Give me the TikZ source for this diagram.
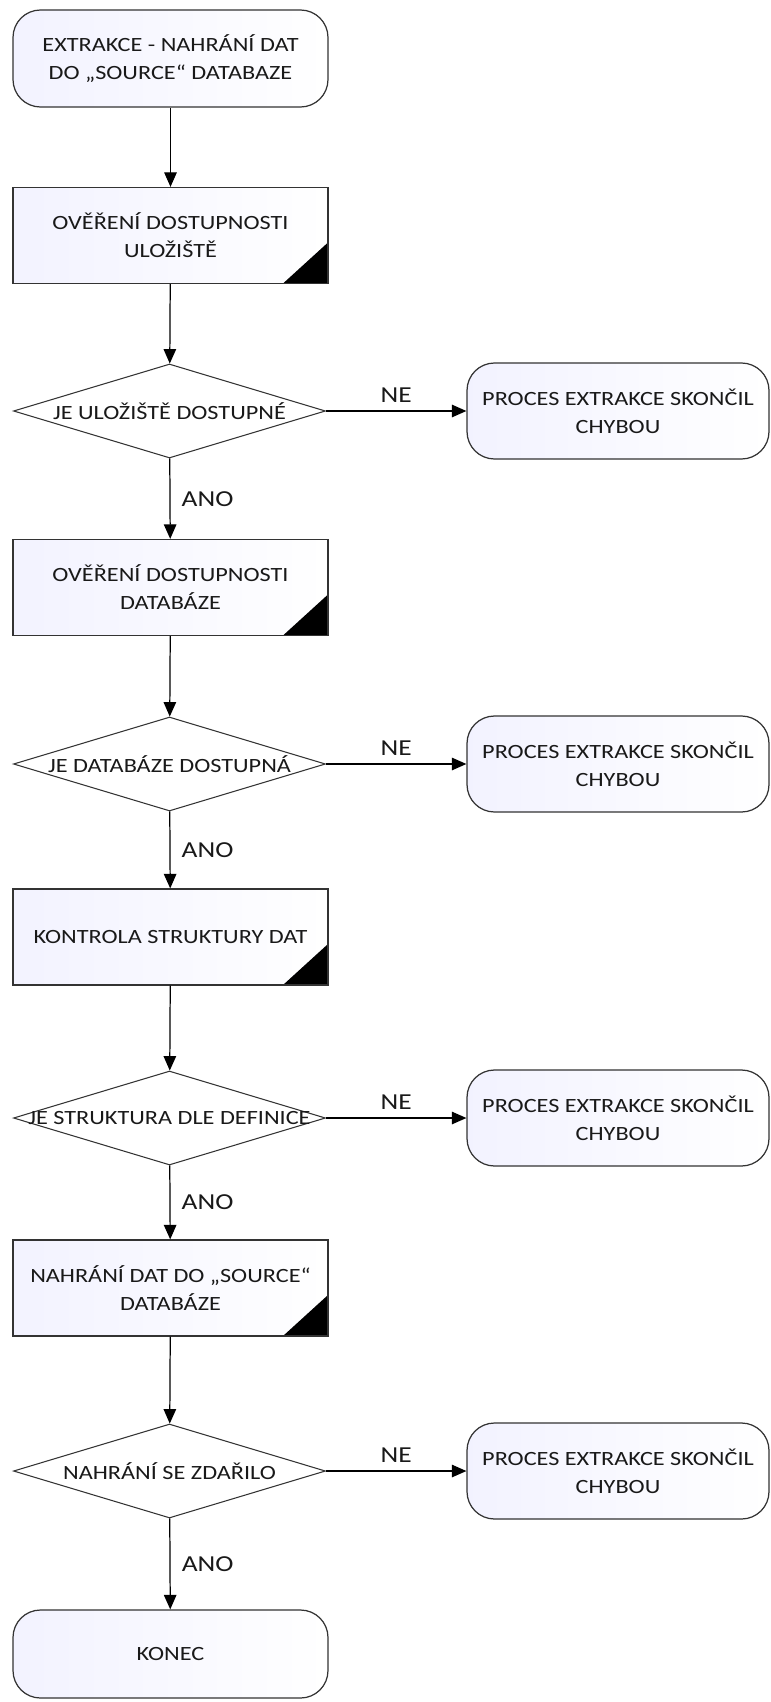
\documentclass[tikz,border=0pt]{standalone}
\usepackage{fontspec}
\setmainfont{Carlito}[FakeStretch=1.2]
\usepackage{tikz}
\usetikzlibrary{arrows.meta,shapes.geometric}

\tikzset{
	boxfont/.style={font=\fontsize{11.5}{16}\selectfont, text=black!90},
	term/.style={draw=black!80, line width=0.7pt, rounded corners=5.5mm, left color=blue!5!white, right color=white, minimum width=6.3cm, minimum height=1.94cm, align=center, boxfont},
	err/.style={term, minimum width=6.04cm, minimum height=1.92cm},
	proc/.style={draw=black!80, line width=0.7pt, left color=blue!5!white, right color=white, minimum width=6.3cm, minimum height=1.92cm, align=center, boxfont,
		path picture={\fill[black] (path picture bounding box.south east) -- ++(-0.9,0) -- ++(0.9,0.82) -- cycle;}},
	dec/.style={diamond, draw=black!80, line width=0.6pt, fill=white, minimum width=6.24cm, minimum height=1.88cm, inner sep=0pt},
	dectext/.style={boxfont},
	flow/.style={-{Triangle[length=2.9mm,width=2.5mm]}, line width=0.7pt},
	lab/.style={font=\fontsize{13}{15}\selectfont, text=black!90}
}

\begin{document}
\begin{tikzpicture}
		\useasboundingbox (0,0) rectangle (15.42,-34.04);

		\node[term] (start) at (3.41,-1.17) {EXTRAKCE - NAHRÁNÍ DAT\\DO „SOURCE“ DATABAZE};
		\node[proc] (p1) at (3.41,-4.71) {OVĚŘENÍ DOSTUPNOSTI\\ULOŽIŠTĚ};
		\node[dec] (d1) at (3.39,-8.22) {};
		\node[dectext] (t1) at (d1) {JE ULOŽIŠTĚ DOSTUPNÉ};
		\node[err] (e1) at (12.36,-8.22) {PROCES EXTRAKCE SKONČIL\\CHYBOU};

		\node[proc] (p2) at (3.41,-11.75) {OVĚŘENÍ DOSTUPNOSTI\\DATABÁZE};
		\node[dec] (d2) at (3.39,-15.28) {};
		\node[dectext] (t2) at (d2) {JE DATABÁZE DOSTUPNÁ};
		\node[err] (e2) at (12.36,-15.28) {PROCES EXTRAKCE SKONČIL\\CHYBOU};

		\node[proc] (p3) at (3.41,-18.74) {KONTROLA STRUKTURY DAT};
		\node[dec] (d3) at (3.39,-22.36) {};
		\node[dectext] (t3) at (d3) {JE STRUKTURA DLE DEFINICE};
		\node[err] (e3) at (12.36,-22.36) {PROCES EXTRAKCE SKONČIL\\CHYBOU};

		\node[proc] (p4) at (3.41,-25.76) {NAHRÁNÍ DAT DO „SOURCE“\\DATABÁZE};
		\node[dec] (d4) at (3.39,-29.42) {};
		\node[dectext] (t4) at (d4) {NAHRÁNÍ SE ZDAŘILO};
		\node[err] (e4) at (12.36,-29.42) {PROCES EXTRAKCE SKONČIL\\CHYBOU};

		\node[term, minimum height=1.76cm] (konec) at (3.41,-33.08) {KONEC};

		\draw[flow] (start) -- (p1);
		\draw[flow] (p1) -- (d1);
		\draw[flow] (d1) -- node[midway, right=3pt, lab] {ANO} (p2);
		\draw[flow] (d1) -- node[midway, above=1pt, lab] {NE} (e1);

		\draw[flow] (p2) -- (d2);
		\draw[flow] (d2) -- node[midway, right=3pt, lab] {ANO} (p3);
		\draw[flow] (d2) -- node[midway, above=1pt, lab] {NE} (e2);

		\draw[flow] (p3) -- (d3);
		\draw[flow] (d3) -- node[midway, right=3pt, lab] {ANO} (p4);
		\draw[flow] (d3) -- node[midway, above=1pt, lab] {NE} (e3);

		\draw[flow] (p4) -- (d4);
		\draw[flow] (d4) -- node[midway, right=3pt, lab] {ANO} (konec);
		\draw[flow] (d4) -- node[midway, above=1pt, lab] {NE} (e4);

	\end{tikzpicture}
\end{document}
